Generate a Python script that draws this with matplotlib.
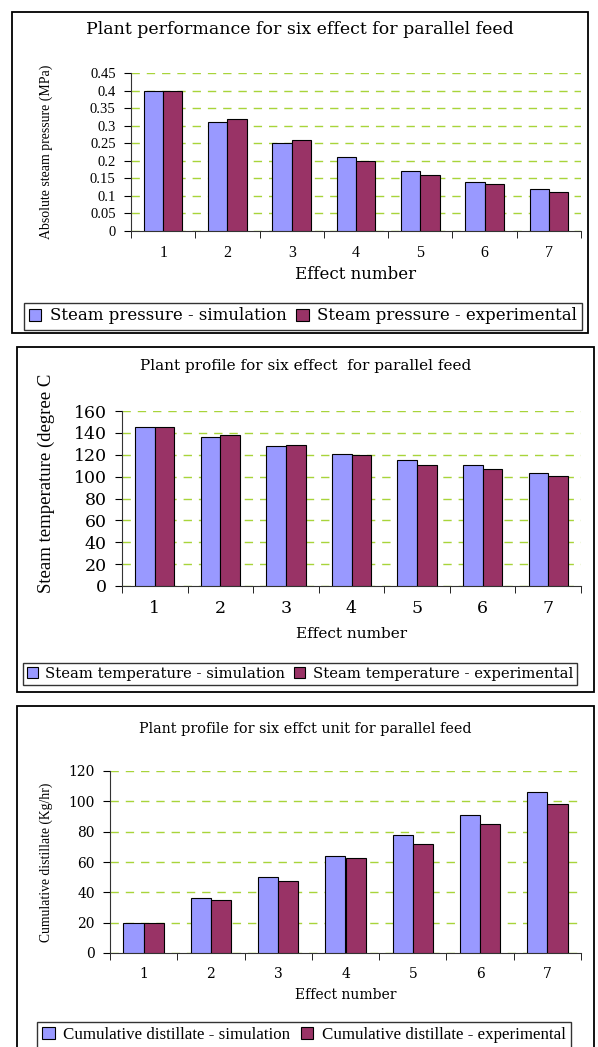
import numpy as np
import matplotlib.pyplot as plt
from matplotlib.patches import Rectangle

plt.rcParams['font.family'] = ['Liberation Serif', 'DejaVu Serif']
WIDE = ['DejaVu Serif']

W, H = 598, 1047

effects = ['1', '2', '3', '4', '5', '6', '7']

# Wykres 1 - cisnienie pary
pressure_sim = [0.40, 0.31, 0.25, 0.21, 0.17, 0.14, 0.12]
pressure_exp = [0.40, 0.318, 0.26, 0.20, 0.16, 0.133, 0.11]
pressure_ticks = [0, 0.05, 0.1, 0.15, 0.2, 0.25, 0.3, 0.35, 0.4, 0.45]
pressure_ticklabels = ['0', '0.05', '0.1', '0.15', '0.2', '0.25', '0.3', '0.35', '0.4', '0.45']

# Wykres 2 - temperatura pary
temp_sim = [145, 136, 128, 121, 115, 111, 103]
temp_exp = [145, 138, 129, 120, 111, 107, 101]
temp_ticks = [0, 20, 40, 60, 80, 100, 120, 140, 160]

# Wykres 3 - destylat skumulowany
dist_sim = [20, 36.5, 50, 64, 77.5, 91, 106]
dist_exp = [20, 35, 47.5, 62.5, 72, 85, 98.5]
dist_ticks = [0, 20, 40, 60, 80, 100, 120]

SIM_COLOR = '#9999FF'
EXP_COLOR = '#993366'
GRID_COLOR = '#A8D43A'


def px_rect(x0, y0, x1, y1):
    # piksele (od gory) -> wspolrzedne figury
    return [x0 / W, 1 - y1 / H, (x1 - x0) / W, (y1 - y0) / H]


def rysuj_panel(fig, box, ax_box, title, title_y, title_font, ylabel, ylabel_pos,
                ylabel_size, sim, exp, ticks, ticklabels, tick_font, xtick_size,
                xlab_font, xlabel_y, leg_center, labels, leg_font):
    # Ramka calego wykresu
    bx0, by0, bx1, by1 = box
    fig.patches.append(Rectangle((bx0 / W, 1 - by1 / H), (bx1 - bx0) / W,
                                 (by1 - by0) / H, transform=fig.transFigure,
                                 fill=False, edgecolor='black', linewidth=1.3))

    ax = fig.add_axes(px_rect(*ax_box))
    x = np.arange(len(effects))
    w = 0.3
    b1 = ax.bar(x - w / 2, sim, w, color=SIM_COLOR, edgecolor='black',
                linewidth=0.8, zorder=3)
    b2 = ax.bar(x + w / 2, exp, w, color=EXP_COLOR, edgecolor='black',
                linewidth=0.8, zorder=3)

    ax.set_xlim(-0.5, len(effects) - 0.5)
    ax.set_ylim(ticks[0], ticks[-1])
    ax.set_yticks(ticks)
    ax.set_yticklabels(ticklabels, fontsize=tick_font[1], family=tick_font[0])
    ax.set_xticks(x)
    ax.set_xticklabels(effects, fontsize=xtick_size, family=tick_font[0])
    ax.set_xticks(np.arange(-0.5, len(effects)), minor=True)
    ax.tick_params(axis='x', which='major', length=0, pad=10)
    ax.tick_params(axis='x', which='minor', length=5, direction='out')
    ax.tick_params(axis='y', length=5, direction='out', pad=6)
    ax.grid(axis='y', color=GRID_COLOR, linestyle=(0, (6, 5)), linewidth=1.0,
            zorder=0)
    for s in ['top', 'right']:
        ax.spines[s].set_visible(False)
    ax.spines['left'].set_color('#333333')
    ax.spines['bottom'].set_color('#333333')

    fig.text((bx0 + bx1) / 2 / W, 1 - title_y / H, title, ha='center',
             va='center', fontsize=title_font[1], family=title_font[0])
    fig.text((ax_box[0] + ax_box[2]) / 2 / W, 1 - xlabel_y / H, 'Effect number',
             ha='center', va='center', fontsize=xlab_font[1], family=xlab_font[0])
    fig.text(ylabel_pos[0] / W, 1 - ylabel_pos[1] / H, ylabel,
             rotation=90, ha='center', va='center', fontsize=ylabel_size)

    lx, ly = leg_center
    leg = fig.legend([b1, b2], labels, loc='center', ncol=2,
                     bbox_to_anchor=(lx / W, 1 - ly / H),
                     bbox_transform=fig.transFigure, fancybox=False,
                     edgecolor='#333333', framealpha=1,
                     prop={'family': leg_font[0], 'size': leg_font[1]},
                     handlelength=0.75, handleheight=0.75, handletextpad=0.5,
                     columnspacing=0.6, borderaxespad=0, borderpad=0.3)
    leg.get_frame().set_linewidth(1.0)
    return ax


fig = plt.figure(figsize=(W / 100, H / 100), dpi=100)

rysuj_panel(fig, (12, 12, 588, 333), (131, 73, 581, 231),
            'Plant performance for six effect for parallel feed', 30, (WIDE, 12.5),
            'Absolute steam pressure (MPa)', (46, 152), 10,
            pressure_sim, pressure_exp, pressure_ticks, pressure_ticklabels,
            (['Liberation Serif'], 10.5), 11.5, (WIDE, 12), 274, (303, 316),
            ['Steam pressure - simulation', 'Steam pressure - experimental'],
            (WIDE, 12))

rysuj_panel(fig, (17, 347, 594, 692), (122, 411, 581, 586),
            'Plant profile for six effect  for parallel feed', 366, (WIDE, 11),
            'Steam temperature (degree C', (46, 483), 13.5,
            temp_sim, temp_exp, temp_ticks, [str(t) for t in temp_ticks],
            (WIDE, 12.5), 12.5, (WIDE, 11), 634, (300, 674),
            ['Steam temperature - simulation', 'Steam temperature - experimental'],
            (WIDE, 10.6))

rysuj_panel(fig, (17, 706, 594, 1060), (110, 771, 581, 953),
            'Plant profile for six effct unit for parallel feed', 729, (WIDE, 10.4),
            'Cumulative distillate (Kg/hr)', (46, 862), 9.8,
            dist_sim, dist_exp, dist_ticks, [str(t) for t in dist_ticks],
            (WIDE, 10), 10, (WIDE, 10), 995, (304, 1035),
            ['Cumulative distillate - simulation', 'Cumulative distillate - experimental'],
            (['Liberation Serif'], 12.2))

fig.savefig('out.png', dpi=100)
